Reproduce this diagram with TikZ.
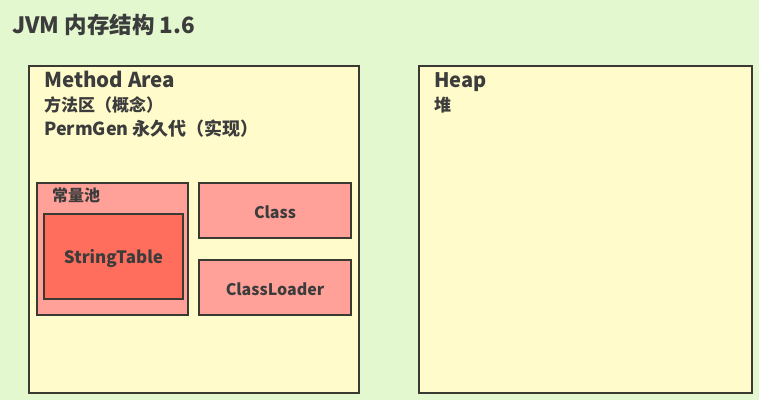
\documentclass[tikz,border=0pt]{standalone}
\usepackage{fontspec}
\setmainfont{Noto Sans CJK SC}
\definecolor{bg}{HTML}{E4F8CF}
\definecolor{area}{HTML}{FFFBCB}
\definecolor{pinkbox}{HTML}{FFA198}
\definecolor{redbox}{HTML}{FF6E5D}
\definecolor{ink}{HTML}{3A3A32}
\definecolor{txt}{HTML}{3C3C3C}
\tikzset{
  areabox/.style={draw=ink, line width=2pt, fill=area},
  pinkrect/.style={draw=ink, line width=2pt, fill=pinkbox},
  redrect/.style={draw=ink, line width=2pt, fill=redbox},
  lbl/.style={text=txt, font=\bfseries, inner sep=0pt, anchor=base west},
  boxlbl/.style={text=txt, font=\bfseries\fontsize{16}{19}\selectfont, inner sep=0pt},
}
\begin{document}
\begin{tikzpicture}[x=1pt,y=-1pt]
\useasboundingbox (0,0) rectangle (759,400);
\fill[bg] (0,0) rectangle (759,400);
\node[lbl, font=\bfseries\fontsize{22.5}{26}\selectfont] (title) at (12,33) {JVM 内存结构 1.6};
% Method area
\draw[areabox] (29,66) rectangle (359,393);
\node[lbl, font=\bfseries\fontsize{20.5}{24}\selectfont] (mat) at (44,87) {Method Area};
\node[lbl, font=\bfseries\fontsize{17}{20}\selectfont] (mac) at (44,111) {方法区（概念）};
\node[lbl, font=\bfseries\fontsize{18}{21}\selectfont] (mpg) at (44,135) {PermGen 永久代（实现）};
% constant pool
\draw[pinkrect] (37,183) rectangle (188,315);
\node[lbl, font=\bfseries\fontsize{16}{19}\selectfont] (cp) at (52,201) {常量池};
\draw[redrect] (44,214) rectangle (183,299);
\node[boxlbl, font=\bfseries\fontsize{17}{20}\selectfont] (st) at (113.5,258) {StringTable};
\draw[pinkrect] (199,183) rectangle (351,238);
\node[boxlbl] (cls) at (275,212) {Class};
\draw[pinkrect] (199,260) rectangle (351,315);
\node[boxlbl] (cl) at (275,289) {ClassLoader};
% Heap
\draw[areabox] (419,66) rectangle (752,393);
\node[lbl, font=\bfseries\fontsize{20}{24}\selectfont] (heap) at (434,87) {Heap};
\node[lbl, font=\bfseries\fontsize{17}{20}\selectfont] (dui) at (434,111) {堆};
\end{tikzpicture}
\end{document}
